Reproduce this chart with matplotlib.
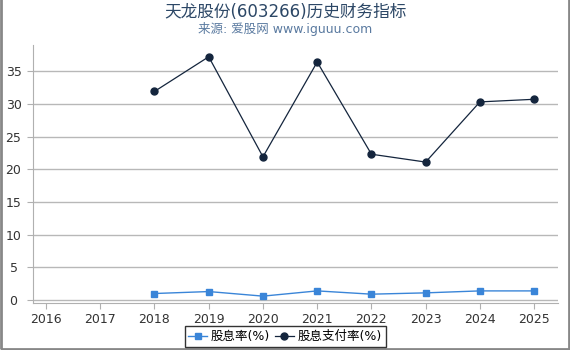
import numpy as np
import matplotlib.pyplot as plt

plt.rcParams['font.family'] = ['DejaVu Sans', 'Noto Sans CJK SC']

years = [2016, 2017, 2018, 2019, 2020, 2021, 2022, 2023, 2024, 2025]
yield_years = [2018, 2019, 2020, 2021, 2022, 2023, 2024, 2025]
div_yield = [1.0, 1.3, 0.6, 1.4, 0.9, 1.1, 1.4, 1.4]
payout = [31.9, 37.2, 21.9, 36.4, 22.3, 21.1, 30.3, 30.7]

fig = plt.figure(figsize=(5.7, 3.5), dpi=100)
ax = fig.add_axes([33 / 570, 47 / 350, (558 - 33) / 570, (303 - 45) / 350])

ax.plot(yield_years, div_yield, color='#3a85d8', marker='s', markersize=5,
        linewidth=1, label='股息率(%)')
ax.plot(yield_years, payout, color='#14253d', marker='o', markersize=5,
        linewidth=0.9, label='股息支付率(%)')

ax.set_xlim(2015.76, 2025.44)
ax.set_ylim(-0.45, 39)
ax.set_xticks(years)
ax.set_yticks([0, 5, 10, 15, 20, 25, 30, 35])
ax.grid(axis='y', color='#b8b8b8', linewidth=1)
ax.set_axisbelow(True)
for s in ['top', 'right']:
    ax.spines[s].set_visible(False)
for s in ['left', 'bottom']:
    ax.spines[s].set_color('#b0b0b0')
ax.tick_params(colors='#333333', labelsize=9, length=4)
ax.tick_params(axis='y', pad=10, color='#b0b0b0')
ax.tick_params(axis='x', color='#b0b0b0')
for lbl in ax.get_yticklabels():
    lbl.set_horizontalalignment('center')

fig.text(0.5, 0.965, '天龙股份(603266)历史财务指标', ha='center', va='center',
         fontsize=12, color='#2c4766')
fig.text(0.5, 0.918, '来源: 爱股网 www.iguuu.com', ha='center', va='center',
         fontsize=9, color='#5a7aa0')

leg = fig.legend(loc='center', bbox_to_anchor=(0.5, 0.038), ncol=2, fontsize=9,
                 frameon=True, fancybox=False, edgecolor='black',
                 handlelength=1.5, handletextpad=0.3, columnspacing=0.4,
                 borderpad=0.3)
leg.get_frame().set_linewidth(1)

# outer border
fig.add_artist(plt.Rectangle((0.002, 0.004), 0.996, 1.2, transform=fig.transFigure,
                             fill=False, edgecolor='#888888', linewidth=2))

plt.savefig('out.png')
